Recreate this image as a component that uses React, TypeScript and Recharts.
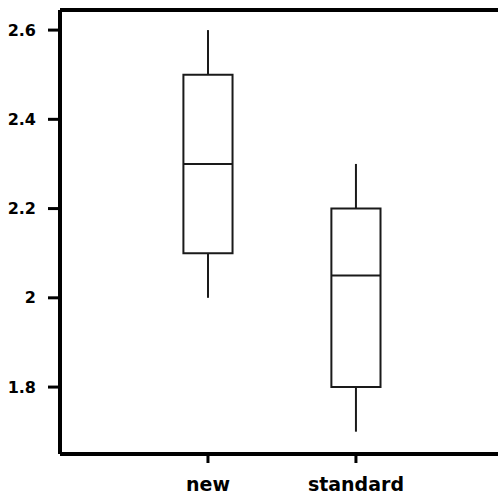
import React from 'react';
import { ComposedChart, XAxis, YAxis, ReferenceArea, ReferenceLine, Scatter } from 'recharts';

const categories = ['new', 'standard'];
const whiskerLow = [2.0, 1.7];
const q1 = [2.1, 1.8];
const median = [2.3, 2.05];
const q3 = [2.5, 2.2];
const whiskerHigh = [2.6, 2.3];
const yTicks = [1.8, 2, 2.2, 2.4, 2.6];

const data = categories.map((c, i) => ({ pos: i + 1, name: c, median: median[i] }));

const HALF = 0.166;
const BOX_STROKE = '#1a1a1a';
const BOX_W = 2;

export default function App() {
  return (
    <div style={{ position: 'absolute', left: 0, top: 0, width: 498, height: 502, background: '#fff' }}>
      <ComposedChart width={498} height={502} data={data} margin={{ top: 9, right: 0, bottom: 0, left: 0 }}>
        <XAxis
          dataKey="pos"
          type="number"
          domain={[0, 2.96]}
          ticks={[1, 2]}
          tickFormatter={(v: number) => categories[v - 1]}
          height={48}
          tickSize={9}
          tickMargin={15}
          axisLine={{ stroke: '#000', strokeWidth: 4 }}
          tickLine={{ stroke: '#000', strokeWidth: 3 }}
          tick={{ fill: '#000', fontSize: 19, fontWeight: 'bold', fontFamily: 'DejaVu Sans' }}
          allowDataOverflow
        />
        <XAxis
          xAxisId="top"
          orientation="top"
          type="number"
          domain={[0, 2.96]}
          height={1}
          tick={false}
          tickLine={false}
          axisLine={{ stroke: '#000', strokeWidth: 4 }}
        />
        <YAxis
          type="number"
          domain={[1.65, 2.645]}
          ticks={yTicks}
          width={60}
          tickSize={12}
          tickMargin={12}
          axisLine={{ stroke: '#000', strokeWidth: 4 }}
          tickLine={{ stroke: '#000', strokeWidth: 3 }}
          tick={{ fill: '#000', fontSize: 16, fontWeight: 'bold', fontFamily: 'DejaVu Sans' }}
          allowDataOverflow
        />
        <Scatter dataKey="median" fill="none" shape={() => <g />} isAnimationActive={false} />
        {categories.map((c, i) => (
          <ReferenceLine
            key={c + 'wl'}
            segment={[{ x: i + 1, y: whiskerLow[i] }, { x: i + 1, y: q1[i] }]}
            stroke={BOX_STROKE}
            strokeWidth={BOX_W}
          />
        ))}
        {categories.map((c, i) => (
          <ReferenceLine
            key={c + 'wh'}
            segment={[{ x: i + 1, y: q3[i] }, { x: i + 1, y: whiskerHigh[i] }]}
            stroke={BOX_STROKE}
            strokeWidth={BOX_W}
          />
        ))}
        {categories.map((c, i) => (
          <ReferenceArea
            key={c + 'box'}
            x1={i + 1 - HALF}
            x2={i + 1 + HALF}
            y1={q1[i]}
            y2={q3[i]}
            fill="#fff"
            fillOpacity={1}
            stroke={BOX_STROKE}
            strokeWidth={BOX_W}
          />
        ))}
        {categories.map((c, i) => (
          <ReferenceLine
            key={c + 'med'}
            segment={[{ x: i + 1 - HALF, y: median[i] }, { x: i + 1 + HALF, y: median[i] }]}
            stroke={BOX_STROKE}
            strokeWidth={BOX_W}
          />
        ))}
      </ComposedChart>
    </div>
  );
}
